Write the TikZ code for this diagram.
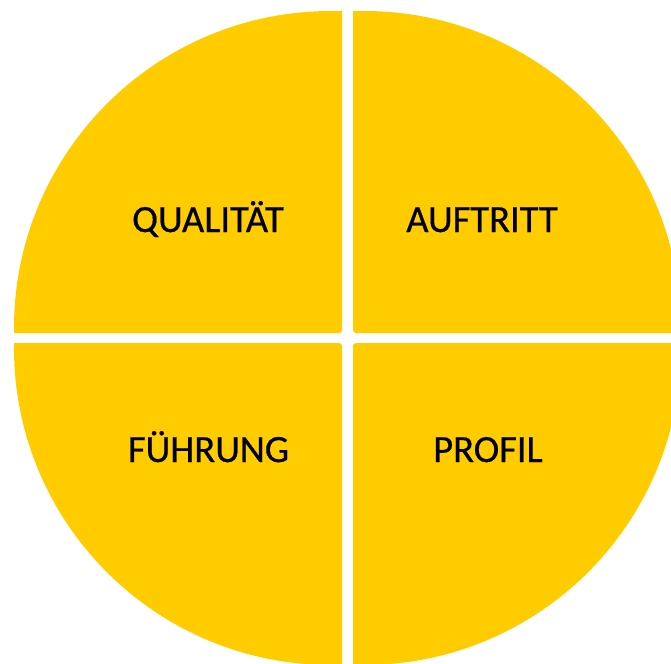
\documentclass[tikz,border=0pt]{standalone}
\usepackage{fontspec}
\setmainfont{Carlito}
\newfontfamily\labelfont{Carlito}[FakeBold=0.5]
\definecolor{quadyellow}{HTML}{FFCC00}
\begin{document}
\begin{tikzpicture}[x=1pt,y=-1pt,
  quad/.style={fill=quadyellow},
  label/.style={font=\labelfont\fontsize{38.5}{42}\selectfont, text=black, inner sep=0pt, anchor=base}]
\useasboundingbox (0,0) rectangle (671,663);
% top-left
\begin{scope}
  \clip[rounded corners=3pt] (-20,-20) rectangle (342,333);
  \fill[quad] (331,328) circle (317pt);
\end{scope}
% top-right
\begin{scope}
  \clip[rounded corners=3pt] (353,-20) rectangle (700,333);
  \fill[quad] (364,328) circle (317pt);
\end{scope}
% bottom-left
\begin{scope}
  \clip[rounded corners=3pt] (-20,343) rectangle (342,700);
  \fill[quad] (331,348) circle (317pt);
\end{scope}
% bottom-right
\begin{scope}
  \clip[rounded corners=3pt] (353,343) rectangle (700,700);
  \fill[quad] (364,348) circle (317pt);
\end{scope}
\node[label] (q) at (208,232) {QUALITÄT};
\node[label] (a) at (482,232) {AUFTRITT};
\node[label] (f) at (208.5,462) {FÜHRUNG};
\node[label] (p) at (488,462) {PROFIL};
\end{tikzpicture}
\end{document}
